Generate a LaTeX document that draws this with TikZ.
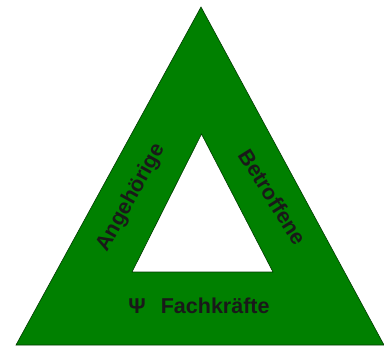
\documentclass[tikz,border=0pt]{standalone}
\usepackage{fontspec}
\setmainfont{Liberation Sans}
\usetikzlibrary{calc}
\definecolor{frame-color}{RGB}{0,128,0}
\definecolor{edge-color}{RGB}{0,60,0}

\begin{document}
\begin{tikzpicture}[x=1pt, y=-1pt,
    band/.style={draw=edge-color, fill=frame-color, line width=0.6pt, even odd rule},
    bandlabel/.style={font=\fontsize{21.5}{23}\selectfont\bfseries, text=black!90, inner sep=0pt}]

    % Fixed canvas with margins of the reference
    \useasboundingbox (0,0) rectangle (384,349);

    % Corners of the outer and inner triangles
    \coordinate (top) at (201,7);
    \coordinate (left) at (16,345);
    \coordinate (right) at (384,345);
    \coordinate (itop) at (201.5,134);
    \coordinate (ileft) at (132,272);
    \coordinate (iright) at (273,272);

    % Green triangular frame with the hole cut out
    \draw[band] (top) -- (left) -- (right) -- cycle
                (itop) -- (ileft) -- (iright) -- cycle;

    % Labels along the three sides
    \node[bandlabel, rotate=61] (relatives) at (131,198) {Angehörige};
    \node[bandlabel, rotate=-58] (affected) at (273,197) {Betroffene};
    \node[bandlabel] (experts) at (199,306) {Ψ\hspace{0.7em}Fachkräfte};
\end{tikzpicture}
\end{document}
